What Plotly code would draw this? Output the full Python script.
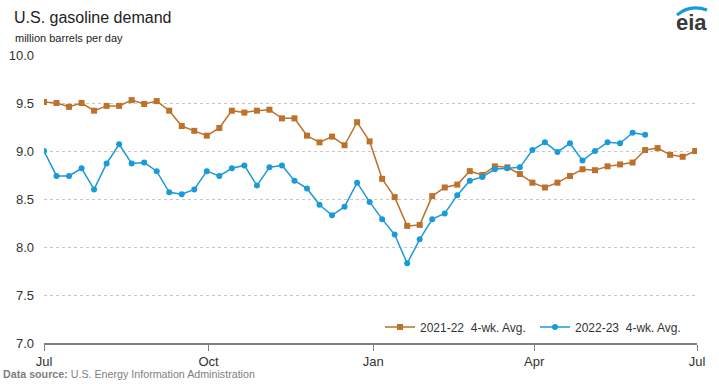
import plotly.graph_objects as go
import pandas as pd

series_2122_name = "2021-22  4-wk. Avg."
series_2223_name = "2022-23  4-wk. Avg."

values_2122 = [9.51, 9.50, 9.46, 9.50, 9.42, 9.47, 9.47, 9.53, 9.49, 9.52,
               9.42, 9.26, 9.21, 9.16, 9.24, 9.42, 9.40, 9.42, 9.43, 9.34,
               9.34, 9.16, 9.09, 9.15, 9.06, 9.30, 9.10, 8.71, 8.52, 8.22,
               8.23, 8.53, 8.62, 8.65, 8.79, 8.75, 8.84, 8.83, 8.76, 8.67,
               8.62, 8.67, 8.74, 8.81, 8.80, 8.84, 8.86, 8.88, 9.01, 9.03,
               8.96, 8.94, 9.00]

values_2223 = [9.00, 8.74, 8.74, 8.82, 8.60, 8.87, 9.07, 8.87, 8.88, 8.79,
               8.57, 8.55, 8.60, 8.79, 8.74, 8.82, 8.85, 8.64, 8.83, 8.85,
               8.69, 8.61, 8.44, 8.33, 8.42, 8.67, 8.47, 8.29, 8.13, 7.83,
               8.08, 8.29, 8.35, 8.54, 8.69, 8.73, 8.81, 8.82, 8.83, 9.01,
               9.09, 8.99, 9.08, 8.90, 9.00, 9.09, 9.08, 9.19, 9.17]

weeks = pd.date_range("2022-07-01", periods=len(values_2122), freq="7D")

tick_dates = ["2022-07-01", "2022-10-01", "2023-01-01", "2023-04-01", "2023-07-01"]
tick_labels = ["Jul", "Oct", "Jan", "Apr", "Jul"]
y_ticks = [7.0, 7.5, 8.0, 8.5, 9.0, 9.5, 10.0]
y_labels = ["7.0", "7.5", "8.0", "8.5", "9.0", "9.5", "10.0"]

orange = "#bd712b"
blue = "#1a9ad8"
font_family = "Liberation Sans, Arial, sans-serif"

W, H = 719, 384
L, T = 44, 55
PW, PH = 653, 288
R, B = W - L - PW, H - T - PH


def px(xp):
    return (xp - 44) / PW


def py(yp):
    return (343 - yp) / PH


fig = go.Figure()
fig.add_trace(go.Scatter(
    x=weeks, y=values_2122, name=series_2122_name, mode="lines+markers",
    line=dict(color=orange, width=1.5),
    marker=dict(symbol="square", size=6, color=orange),
))
fig.add_trace(go.Scatter(
    x=weeks[:len(values_2223)], y=values_2223, name=series_2223_name, mode="lines+markers",
    line=dict(color=blue, width=1.5),
    marker=dict(symbol="circle", size=6, color=blue),
))

fig.update_layout(
    width=W, height=H,
    margin=dict(l=L, r=R, t=T, b=B, autoexpand=False),
    paper_bgcolor="white", plot_bgcolor="white",
    font=dict(family=font_family, size=13, color="#333333"),
    showlegend=True,
    legend=dict(orientation="h", x=px(690), xanchor="right", y=py(327), yanchor="middle",
                font=dict(size=12, color="#333333"), bgcolor="rgba(0,0,0,0)",
                tracegroupgap=0, entrywidth=110, entrywidthmode="pixels"),
    xaxis=dict(
        type="date", range=["2022-07-01", "2023-07-01"],
        tickvals=tick_dates, ticktext=tick_labels, automargin=False,
        showgrid=False, showline=True, linecolor="#7f7f7f", linewidth=1.5,
        ticks="outside", ticklen=6, tickcolor="#7f7f7f",
        tickfont=dict(size=13, color="#333333"), zeroline=False,
    ),
    yaxis=dict(
        range=[7.0, 10.0], tickvals=y_ticks, ticktext=y_labels, automargin=False,
        showgrid=True, gridcolor="#c8c8c8", griddash="dot", gridwidth=1,
        showline=False, zeroline=False, ticks="", ticklabelstandoff=9,
        tickfont=dict(size=13, color="#333333"),
    ),
)

fig.add_annotation(text="U.S. gasoline demand", xref="paper", yref="paper",
                   x=px(12), y=py(18), xanchor="left", yanchor="middle",
                   showarrow=False, font=dict(size=16, color="#222222", family=font_family))
fig.add_annotation(text="million barrels per day", xref="paper", yref="paper",
                   x=px(13), y=py(38), xanchor="left", yanchor="middle",
                   showarrow=False, font=dict(size=11, color="#222222", family=font_family))
fig.add_annotation(text="<b>Data source:</b> U.S. Energy Information Administration",
                   xref="paper", yref="paper", x=px(1), y=py(374),
                   xanchor="left", yanchor="middle", showarrow=False,
                   font=dict(size=10.7, color="#808080", family=font_family))
# eia logo
fig.add_annotation(text="<b>eia</b>", xref="paper", yref="paper",
                   x=px(691), y=py(23), xanchor="center", yanchor="middle",
                   showarrow=False, font=dict(size=22, color="#3a3a3a", family=font_family))
fig.add_shape(type="path", xref="paper", yref="paper",
              path="M %f %f Q %f %f %f %f" % (px(677), py(15), px(690), py(4), px(707), py(10)),
              line=dict(color="#1a9ad8", width=3))

fig.write_html("out.html", post_script="document.body.style.margin='0';",
               config={"displayModeBar": False})
